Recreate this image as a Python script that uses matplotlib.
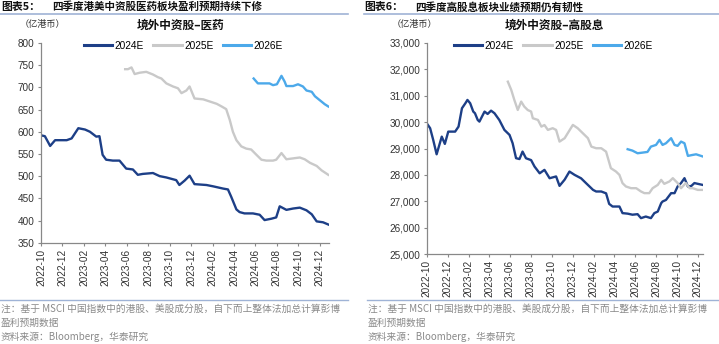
import pandas as pd
import matplotlib
matplotlib.use("Agg")
from matplotlib import pyplot as plt
import matplotlib.dates as mdates
from matplotlib.lines import Line2D

plt.rcParams["font.family"] = ["Liberation Sans", "Noto Sans CJK SC"]
CJK = ["Noto Sans CJK SC", "Liberation Sans"]

# ---- 医药 (left) ----
med_dates_24 = ["2022-10-01", "2022-10-12", "2022-10-27", "2022-11-10", "2022-12-13", "2022-12-27",
                "2023-01-15", "2023-02-03", "2023-02-17", "2023-03-07", "2023-03-16", "2023-03-25",
                "2023-04-04", "2023-04-23", "2023-05-12", "2023-05-31", "2023-06-19", "2023-07-03",
                "2023-07-17", "2023-08-15", "2023-09-03", "2023-09-22", "2023-10-20", "2023-10-29",
                "2023-11-13", "2023-11-27", "2023-12-11", "2024-01-14", "2024-02-02", "2024-03-01",
                "2024-03-15", "2024-03-24", "2024-04-08", "2024-04-17", "2024-05-01", "2024-05-25",
                "2024-06-13", "2024-06-27", "2024-07-16", "2024-07-30", "2024-08-09", "2024-08-28",
                "2024-09-16", "2024-10-05", "2024-10-24", "2024-11-08", "2024-11-22", "2024-12-10",
                "2024-12-25"]
med_24 = [592, 590, 568, 581, 581, 585,
          608, 605, 600, 589, 590, 548,
          537, 535, 535, 517, 515, 503,
          505, 507, 500, 497, 491, 480,
          490, 501, 482, 480, 477, 472,
          470, 454, 425, 419, 416, 416,
          413, 401, 404, 407, 432, 424,
          427, 429, 423, 414, 398, 396,
          391]

med_dates_25 = ["2023-05-28", "2023-06-05", "2023-06-15", "2023-06-24", "2023-07-08", "2023-07-27",
                "2023-08-15", "2023-08-29", "2023-09-08", "2023-09-22", "2023-10-11", "2023-10-25",
                "2023-11-04", "2023-11-18", "2023-11-27", "2023-12-11", "2024-01-05", "2024-01-24",
                "2024-02-12", "2024-02-26", "2024-03-10", "2024-03-20", "2024-03-29", "2024-04-08",
                "2024-04-22", "2024-05-06", "2024-05-20", "2024-06-04", "2024-06-18", "2024-07-02",
                "2024-07-21", "2024-07-30", "2024-08-14", "2024-08-28", "2024-09-16", "2024-10-05",
                "2024-10-19", "2024-11-03", "2024-11-22", "2024-12-06", "2024-12-25"]
med_25 = [741, 741, 745, 730, 733, 735,
          729, 723, 720, 709, 702, 698,
          687, 693, 702, 675, 673, 668,
          663, 657, 651, 627, 600, 581,
          567, 562, 560, 548, 537, 535,
          535, 537, 552, 538, 540, 542,
          538, 530, 523, 513, 503]

med_dates_26 = ["2024-05-27", "2024-06-08", "2024-06-22", "2024-07-11", "2024-07-21", "2024-08-01",
                "2024-08-14", "2024-08-23", "2024-08-28", "2024-09-16", "2024-09-30", "2024-10-14",
                "2024-10-24", "2024-11-08", "2024-11-17", "2024-12-01", "2024-12-15", "2024-12-25"]
med_26 = [720, 709, 709, 709, 705, 707,
          726, 713, 703, 703, 707, 702,
          693, 690, 680, 671, 662, 657]

# ---- 高股息 (right) ----
div_dates_24 = ["2022-10-01", "2022-10-11", "2022-10-20", "2022-10-30", "2022-11-14", "2022-11-23",
                "2022-12-03", "2022-12-23", "2023-01-02", "2023-01-12", "2023-01-22", "2023-01-28",
                "2023-02-05", "2023-02-14", "2023-02-19", "2023-02-27", "2023-03-04", "2023-03-19",
                "2023-03-28", "2023-04-07", "2023-04-17", "2023-05-01", "2023-05-16", "2023-05-31",
                "2023-06-09", "2023-06-19", "2023-06-29", "2023-07-08", "2023-07-18", "2023-08-02",
                "2023-08-12", "2023-08-27", "2023-09-10", "2023-09-25", "2023-10-14", "2023-10-24",
                "2023-11-08", "2023-11-22", "2023-12-07", "2023-12-26", "2024-01-10", "2024-01-30",
                "2024-02-08", "2024-02-23", "2024-03-08", "2024-03-17", "2024-03-27", "2024-04-16",
                "2024-04-25", "2024-05-10", "2024-05-24", "2024-06-08", "2024-06-18", "2024-07-02",
                "2024-07-17", "2024-07-27", "2024-08-06", "2024-08-16", "2024-08-20", "2024-08-30",
                "2024-09-14", "2024-09-24", "2024-10-03", "2024-10-13", "2024-10-23", "2024-11-02",
                "2024-11-12", "2024-11-21", "2024-12-01", "2024-12-15"]
div_24 = [29958, 29770, 29326, 28780, 29450, 29174,
          29640, 29640, 29830, 30526, 30716, 30841,
          30716, 30400, 30337, 30083, 30020, 30400,
          30310, 30435, 30337, 30083, 29705, 29515,
          29200, 28633, 28600, 28883, 28630, 28560,
          28316, 28060, 28190, 27873, 27940, 27583,
          27820, 28126, 28000, 27870, 27680, 27430,
          27370, 27370, 27300, 26900, 26800, 26800,
          26550, 26530, 26490, 26510, 26360, 26420,
          26360, 26550, 26610, 26928, 26990, 27050,
          27307, 27307, 27560, 27690, 27875, 27560,
          27580, 27690, 27660, 27620]

div_dates_25 = ["2023-05-26", "2023-06-05", "2023-06-14", "2023-06-24", "2023-07-04", "2023-07-13",
                "2023-07-23", "2023-08-02", "2023-08-07", "2023-08-22", "2023-09-01", "2023-09-10",
                "2023-09-20", "2023-10-04", "2023-10-14", "2023-10-24", "2023-11-08", "2023-11-17",
                "2023-12-02", "2023-12-16", "2023-12-31", "2024-01-15", "2024-01-25", "2024-02-08",
                "2024-02-23", "2024-03-08", "2024-03-22", "2024-04-06", "2024-04-16", "2024-04-25",
                "2024-05-05", "2024-05-20", "2024-06-04", "2024-06-18", "2024-06-28", "2024-07-12",
                "2024-07-22", "2024-08-06", "2024-08-16", "2024-08-25", "2024-09-09", "2024-09-19",
                "2024-10-03", "2024-10-13", "2024-10-27", "2024-11-07", "2024-11-16", "2024-12-01",
                "2024-12-15"]
div_25 = [31534, 31220, 30841, 30462, 30778, 30590,
          30460, 30400, 30147, 30083, 29830, 29890,
          29705, 29770, 29705, 29262, 29390, 29580,
          29894, 29770, 29580, 29390, 29072, 29010,
          29010, 28880, 28254, 28126, 28000, 27686,
          27560, 27495, 27495, 27370, 27307, 27307,
          27495, 27620, 27810, 27660, 27750, 27875,
          27690, 27495, 27690, 27495, 27495, 27430,
          27430]

div_dates_26 = ["2024-05-10", "2024-05-24", "2024-06-08", "2024-06-23", "2024-07-07", "2024-07-17",
                "2024-08-01", "2024-08-11", "2024-08-20", "2024-08-30", "2024-09-14", "2024-09-24",
                "2024-10-03", "2024-10-13", "2024-10-23", "2024-11-02", "2024-11-16", "2024-11-26",
                "2024-12-15"]
div_26 = [28973, 28920, 28820, 28845, 28870, 29072,
          29136, 29326, 29136, 29200, 29390, 29136,
          29100, 29262, 29200, 28720, 28757, 28780,
          28700]

series_labels = ["2024E", "2025E", "2026E"]
colors = ["#1d3f87", "#c9c9c9", "#4ca9ea"]

note_1 = "注：基于 MSCI 中国指数中的港股、美股成分股，自下而上整体法加总计算彭博"
note_2 = "盈利预期数据"
source = "资料来源：Bloomberg，华泰研究"

fig = plt.figure(figsize=(7.19, 3.44), dpi=100)
W, H = 719, 344


def fx(px):
    return px / W


def fy(py):
    return 1 - py / H


panels = [
    dict(rect=[fx(41), fy(242.7), fx(329 - 41), (242.7 - 43) / H],
         series=[(med_dates_24, med_24), (med_dates_25, med_25), (med_dates_26, med_26)],
         ylim=(350, 800), ystep=50, fmt="{:.0f}", xend="2024-12-27",
         prefix="图表5：", title="四季度港美中资股医药板块盈利预期持续下修", tx=0, lx=(0, 348),
         sub="境外中资股–医药", subx=181, unitx=20, legx=85, footx=(0, 348)),
    dict(rect=[fx(426.7), fy(254), fx(703.3 - 426.7), (254 - 43) / H],
         series=[(div_dates_24, div_24), (div_dates_25, div_25), (div_dates_26, div_26)],
         ylim=(25000, 33000), ystep=1000, fmt="{:,.0f}", xend="2024-12-17",
         prefix="图表6：", title="四季度高股息板块业绩预期仍有韧性", tx=363, lx=(364, 719),
         sub="境外中资股–高股息", subx=554, unitx=392, legx=455, footx=(367, 719)),
]

for p in panels:
    ax = fig.add_axes(p["rect"])
    for (d, v), c, lab in zip(p["series"], colors, series_labels):
        ax.plot(pd.to_datetime(d), v, color=c, lw=1.7, label=lab)
    ax.set_xlim(pd.Timestamp("2022-10-01"), pd.Timestamp(p["xend"]))
    ax.set_ylim(*p["ylim"])
    lo, hi = p["ylim"]
    yt = list(range(lo, hi + 1, p["ystep"]))
    ax.set_yticks(yt)
    ax.set_yticklabels([p["fmt"].format(t) for t in yt])
    ax.xaxis.set_major_locator(mdates.MonthLocator(bymonth=[2, 4, 6, 8, 10, 12]))
    ax.xaxis.set_major_formatter(mdates.DateFormatter("%Y-%m"))
    for lbl in ax.get_xticklabels():
        lbl.set_rotation(90)
    ax.tick_params(axis="both", labelsize=7.2, colors="#333333", length=2.5, width=0.8,
                   color="#888888", pad=2)
    for s in ["top", "right"]:
        ax.spines[s].set_visible(False)
    for s in ["left", "bottom"]:
        ax.spines[s].set_color("#888888")
        ax.spines[s].set_linewidth(0.9)
    ax.patch.set_alpha(0)

    # legend
    ax.legend(loc="center left", bbox_to_anchor=(fx(p["legx"] - 1), fy(46)),
              bbox_transform=fig.transFigure, ncol=3, frameon=False, fontsize=7.3,
              handlelength=2.8, handletextpad=0.25, columnspacing=0.9, borderpad=0,
              borderaxespad=0)
    for line in ax.get_legend().get_lines():
        line.set_linewidth(2.2)

    # header / footer text
    fig.text(fx(p["tx"] + 1), fy(7), p["prefix"], fontsize=7.8, fontweight="bold",
             family=CJK, va="center", ha="left", color="#111111")
    fig.text(fx(p["tx"] + 52), fy(7), p["title"], fontsize=7.6, fontweight="bold",
             family=CJK, va="center", ha="left", color="#111111")
    fig.add_artist(Line2D([fx(p["lx"][0]), fx(p["lx"][1])], [fy(14), fy(14)],
                          color="#9fb3d6", lw=1.2))
    fig.text(fx(p["subx"]), fy(25), p["sub"], fontsize=8.4, fontweight="bold",
             family=CJK, va="center", ha="center", color="#111111")
    fig.text(fx(p["unitx"]), fy(25), "（亿港币）", fontsize=6.6, family=CJK,
             va="center", ha="left", color="#333333")
    fig.add_artist(Line2D([fx(p["footx"][0]), fx(p["footx"][1])], [fy(300), fy(300)],
                          color="#9fb3d6", lw=1.0))
    fx0 = fx(p["footx"][0] + 1)
    fig.text(fx0, fy(309), note_1, fontsize=7.0, family=CJK, va="center", ha="left",
             color="#8a8a8a")
    fig.text(fx0, fy(323), note_2, fontsize=7.0, family=CJK, va="center", ha="left",
             color="#8a8a8a")
    fig.text(fx0, fy(337), source, fontsize=7.0, family=CJK, va="center", ha="left",
             color="#8a8a8a")

fig.savefig("out.png", dpi=100)
